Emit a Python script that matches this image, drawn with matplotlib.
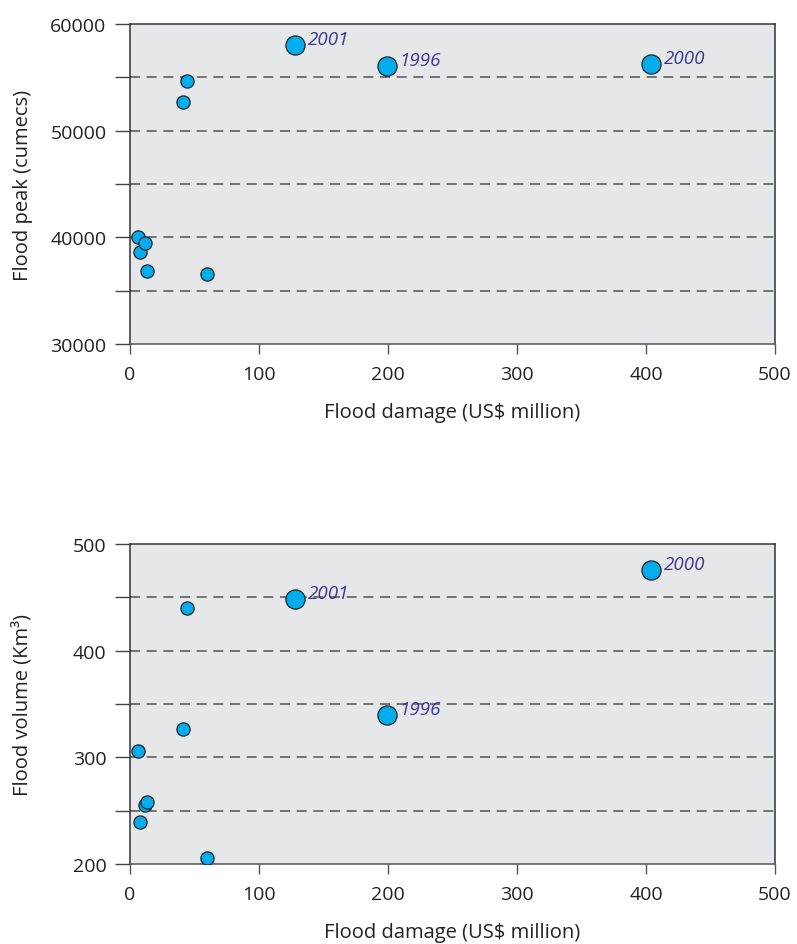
import matplotlib
matplotlib.use("Agg")
import matplotlib.pyplot as plt
from matplotlib.ticker import MultipleLocator

plt.rcParams['font.family'] = ['Open Sans', 'DejaVu Sans']

# Data
years = ["", "", "", "", "", "", "", "2001", "1996", "2000"]
damage = [6.5, 7.5, 11.5, 12.8, 41, 44.5, 60, 128, 199, 404]          # US$ million
peak = [40000, 38650, 39440, 36870, 52690, 54660, 36530, 58030, 56080, 56250]  # cumecs
volume = [305.6, 239.7, 255.3, 258.4, 326.6, 440.3, 205.6, 448.4, 339.7, 475.6]  # Km3
big = [False] * 7 + [True] * 3

FACE = "#E6E7E8"
DOT = "#00AEEF"
LBL = "#3A3A96"
FS_T = 14
FS_L = 14.5
FS_Y = 13.5

fig = plt.figure(figsize=(7.97, 9.45), dpi=100)

def panel(rect, yvals, ylim, major, minor, ylabel):
    ax = fig.add_axes(rect)
    ax.set_facecolor(FACE)
    ax.set_xlim(0, 500)
    ax.set_ylim(*ylim)
    ax.xaxis.set_major_locator(MultipleLocator(100))
    ax.yaxis.set_major_locator(MultipleLocator(major))
    ax.yaxis.set_minor_locator(MultipleLocator(minor))
    for sp in ax.spines.values():
        sp.set_color("#333333")
        sp.set_linewidth(1.1)
    ax.spines['bottom'].set_color("#555555")
    ax.tick_params(axis='x', direction='out', length=7, width=1.0, color="#555555",
                   labelsize=FS_T, pad=8, labelcolor="#222222")
    ax.tick_params(axis='y', which='both', direction='out', length=11, width=1.0,
                   color="#444444", labelsize=FS_T, pad=6, labelcolor="#222222")
    ax.grid(False)
    lo, hi = ylim
    g = lo + minor
    while g < hi - 1e-9:
        ax.axhline(g, color="#5f5f5f", lw=1.2, ls=(0, (6, 4)), zorder=1)
        g += minor
    xs_s = [d for d, b in zip(damage, big) if not b]
    ys_s = [v for v, b in zip(yvals, big) if not b]
    xs_b = [d for d, b in zip(damage, big) if b]
    ys_b = [v for v, b in zip(yvals, big) if b]
    ax.scatter(xs_s, ys_s, s=90, color=DOT, edgecolors="#222222", linewidths=0.9, zorder=3)
    ax.scatter(xs_b, ys_b, s=190, color=DOT, edgecolors="#222222", linewidths=0.9, zorder=3)
    for d, v, yr in zip(damage, yvals, years):
        if yr:
            ax.annotate(yr, (d, v), xytext=(13, 6), textcoords='offset pixels',
                        ha='left', va='center', style='italic', fontsize=FS_Y,
                        color=LBL, zorder=4)
    ax.set_xlabel("Flood damage (US$ million)", fontsize=FS_L, labelpad=14, color="#222222")
    ax.set_ylabel(ylabel, fontsize=FS_L, color="#222222")
    ax.yaxis.set_label_coords(-0.151, 0.5)
    return ax

panel([130 / 797, 1 - 345 / 945, 645 / 797, 320 / 945], peak, (30000, 60000),
      10000, 5000, "Flood peak (cumecs)")
panel([130 / 797, 1 - 865 / 945, 645 / 797, 320 / 945], volume, (200, 500),
      100, 50, "Flood volume (Km³)")

fig.savefig("out.png", dpi=100)
